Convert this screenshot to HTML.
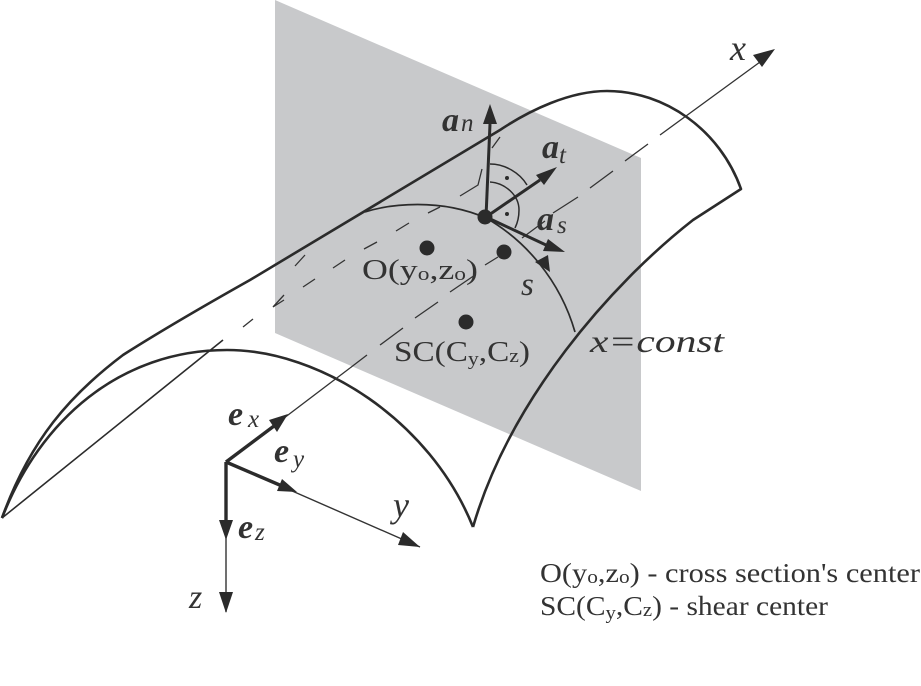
<!DOCTYPE html>
<html>
<head>
<meta charset="utf-8">
<style>
html,body{margin:0;padding:0;background:#fff;}
svg{display:block;}
text{font-family:"Liberation Serif",serif;fill:#333;}
.bi{font-weight:bold;font-style:italic;font-size:34px;}
.i{font-style:italic;font-size:25px;}
.n{font-size:29px;}
.l{font-size:27px;}
.sub{font-size:19px;}
</style>
</head>
<body>
<svg width="921" height="686" viewBox="0 0 921 686" xmlns="http://www.w3.org/2000/svg">
<rect width="921" height="686" fill="#fff"/>
<polygon points="275,0 641,158 641,491 275,333" fill="#c8c9cb"/>

<!-- surface -->
<g fill="none" stroke="#2b2b2b" stroke-width="2.6" stroke-linejoin="round">
<path d="M2,518 C30,440 70,395 123,355 Q170,325 250,280 L500,130 C530,110 570,91 607,91 C665,91 720,130 741,189 L693,220 C610,285 510,400 473,527"/>
<path d="M2,518 C40,420 120,350 227,350 C320,350 430,420 473,527"/>
</g>
<line x1="2" y1="518" x2="223" y2="340" stroke="#2b2b2b" stroke-width="1.6"/>

<!-- hidden edge dashes -->
<g fill="none" stroke="#333" stroke-width="1.3">
<path d="M243,327 L253,319"/>
<path d="M284,295 L273,307 L284,300"/>
<path d="M303,287 L315,279 M333,268 L345,260 M364,249 L377,242 M396,231 L409,223 M428,213 L440,207"/>
<path d="M460,196 L478,185 L482,169 M492,148 L500,137"/>
<path d="M295,266 L305,255"/>
</g>

<!-- x axis -->
<g fill="none" stroke="#333" stroke-width="1.3">
<path d="M226,462 L350,368"/>
<path d="M350,368 L367,355 M380,345 L403,328 M415,318 L438,302 M450,292 L475,275 M485,265 L498,257"/>
<path d="M522,238 L545,221 M553,213 L578,197 M590,188 L613,171 M625,161 L648,144 M660,135 L760,62"/>
<path d="M226,462 L420,547" stroke-width="1.4" />
<path d="M226,462 L226,612" stroke-width="1.4"/>
</g>
<g fill="#2b2b2b">
<polygon points="775,49 753,55 762,67"/>
<polygon points="420,547 403,532 398,545"/>
<polygon points="226,613 219,592 233,592"/>
</g>

<!-- base vectors -->
<g stroke="#2b2b2b" stroke-width="3.4" fill="none">
<path d="M226,462 L274,426"/>
<path d="M226,462 L282,486"/>
<path d="M226,462 L226,522"/>
</g>
<g fill="#2b2b2b">
<polygon points="288,414 269,420 277,432"/>
<polygon points="297,492 282,479 277,491"/>
<polygon points="226,540 219,520 233,520"/>
</g>

<!-- cross section curve -->
<path d="M365,212 C390,204 440,198 486,218 C525,240 560,280 575,332" fill="none" stroke="#2b2b2b" stroke-width="1.7"/>
<polygon points="550,272 535,262 548,255" fill="#2b2b2b"/>

<!-- local vectors -->
<g stroke="#2b2b2b" stroke-width="3" fill="none">
<path d="M486,217 L490,124"/>
<path d="M486,217 L540,180"/>
<path d="M486,217 L546,245"/>
</g>
<g fill="#2b2b2b">
<polygon points="490,104 483,124 497,124"/>
<polygon points="557,167 536,175 544,185"/>
<polygon points="565,252 548,239 543,251"/>
</g>
<g fill="none" stroke="#2b2b2b" stroke-width="1.5">
<path d="M490,164 C505,164 520,173 527,185"/>
<path d="M490,182 C505,183 519,195 519,210 C519,216 518,222 515,228"/>
</g>
<g fill="#2b2b2b">
<circle cx="507" cy="178" r="2"/>
<circle cx="507" cy="214" r="2"/>
<circle cx="485" cy="217" r="7.5"/>
<circle cx="427" cy="248" r="7.5"/>
<circle cx="504" cy="252" r="7.5"/>
<circle cx="466" cy="322" r="7.5"/>
</g>

<!-- labels -->
<text class="bi" x="442" y="131">a</text><text class="i" x="461" y="131">n</text>
<text class="bi" x="542" y="158">a</text><text class="i" x="559" y="163">t</text>
<text class="bi" x="537" y="230" style="font-weight:bold">a</text><text class="i" x="557" y="233">s</text>
<text x="521" y="295" style="font-style:italic;font-size:33px">s</text>
<text x="730" y="60" style="font-style:italic;font-size:36px">x</text>
<text x="393" y="517" style="font-style:italic;font-size:36px">y</text>
<text x="189" y="608" style="font-style:italic;font-size:34px">z</text>
<text x="590" y="352" textLength="134" lengthAdjust="spacingAndGlyphs" style="font-style:italic;font-size:32px">x=const</text>

<text class="n" x="362" y="279" textLength="116" lengthAdjust="spacingAndGlyphs">O(y<tspan class="sub" dy="1">o</tspan><tspan dy="-1">,z</tspan><tspan class="sub" dy="1">o</tspan><tspan dy="-1">)</tspan></text>
<text class="n" x="394" y="361" textLength="136" lengthAdjust="spacingAndGlyphs">SC(C<tspan class="sub" dy="4">y</tspan><tspan dy="-4">,C</tspan><tspan class="sub" dy="1">z</tspan><tspan dy="-1">)</tspan></text>

<text class="bi" x="228" y="425">e</text><text class="i" x="248" y="427">x</text>
<text class="bi" x="274" y="462">e</text><text class="i" x="293" y="467">y</text>
<text class="bi" x="238" y="538">e</text><text class="i" x="255" y="540">z</text>

<text class="l" x="540" y="582" textLength="380" lengthAdjust="spacingAndGlyphs">O(y<tspan class="sub" dy="1">o</tspan><tspan dy="-1">,z</tspan><tspan class="sub" dy="1">o</tspan><tspan dy="-1">) - cross section's center</tspan></text>
<text class="l" x="540" y="615" textLength="288" lengthAdjust="spacingAndGlyphs">SC(C<tspan class="sub" dy="4">y</tspan><tspan dy="-4">,C</tspan><tspan class="sub" dy="1">z</tspan><tspan dy="-1">) - shear center</tspan></text>
</svg>
</body>
</html>
